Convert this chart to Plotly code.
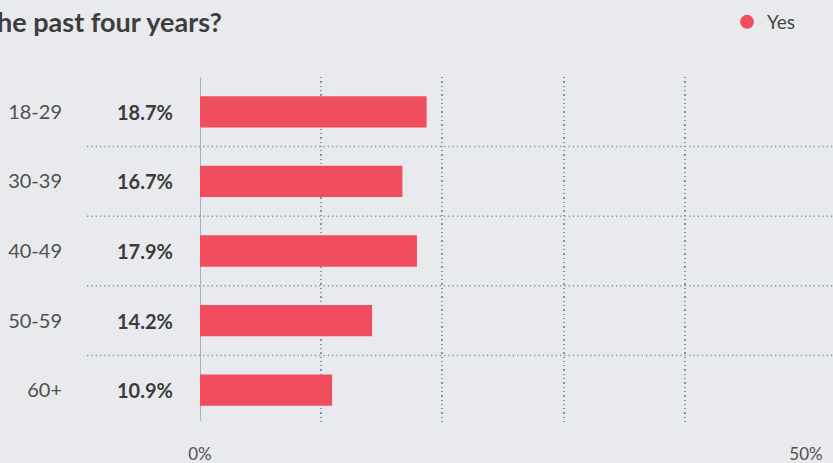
import plotly.graph_objects as go

categories = ["18-29", "30-39", "40-49", "50-59", "60+"]
values = [18.7, 16.7, 17.9, 14.2, 10.9]
series_name = "Yes"
title_text = "the past four years?"
x_tickvals = [0, 10, 20, 30, 40, 50]
x_ticktext = ["0%", "", "", "", "", "50%"]

W, H = 833, 463
L, R, T, B = 200, 27, 77, 38
pw = W - L - R
ph = H - T - B

BG = "rgb(233,234,238)"
BAR = "rgb(240,78,94)"
GRID = "rgb(125,150,175)"
DOT = "1.3px,3px"
FONT = "Lato, 'Source Sans Pro', 'Noto Sans', sans-serif"

fig = go.Figure()
fig.add_trace(go.Bar(
    x=values, y=categories, orientation="h", name=series_name,
    marker=dict(color=BAR, line=dict(width=0)), width=0.45, showlegend=False,
))
# legend marker
fig.add_trace(go.Scatter(
    x=[None], y=[None], mode="markers", name=series_name,
    marker=dict(color=BAR, size=14, symbol="circle"),
))

def px2paperx(px):
    return (px - L) / pw

def px2papery(py):
    return 1 - (py - T) / ph

annotations = []
for c, v in zip(categories, values):
    annotations.append(dict(
        x=px2paperx(175), xref="paper", y=c, yref="y",
        text=f"<b>{v:.1f}%</b>", showarrow=False, xanchor="right",
        font=dict(size=20, color="rgb(60,60,60)", family=FONT),
    ))
annotations.append(dict(
    x=px2paperx(224), xref="paper", y=px2papery(22), yref="paper",
    text=f"<b>{title_text}</b>", showarrow=False, xanchor="right", yanchor="middle",
    font=dict(size=27, color="rgb(62,62,62)", family=FONT),
))

shapes = []
n = len(categories)
for i in range(n - 1):
    shapes.append(dict(
        type="line", xref="paper", yref="y",
        x0=px2paperx(87), x1=px2paperx(833), y0=i + 0.5, y1=i + 0.5,
        line=dict(color=GRID, width=1.5, dash=DOT), layer="below",
    ))
shapes.append(dict(
    type="line", xref="x", yref="paper", x0=0, x1=0,
    y0=px2papery(421), y1=px2papery(77),
    line=dict(color="rgb(160,178,196)", width=2), layer="below",
))

fig.update_layout(
    width=W, height=H,
    margin=dict(l=L, r=R, t=T, b=B, autoexpand=False),
    paper_bgcolor=BG, plot_bgcolor=BG,
    font=dict(family=FONT, color="rgb(80,80,80)"),
    annotations=annotations, shapes=shapes,
    showlegend=True,
    legend=dict(x=px2paperx(801), xanchor="right", y=px2papery(3), yanchor="top",
                orientation="h", font=dict(size=19, color="rgb(70,70,70)"),
                bgcolor="rgba(0,0,0,0)", itemwidth=30),
    bargap=0.55,
)
fig.update_xaxes(
    range=[0, 50], tickvals=x_tickvals, ticktext=x_ticktext,
    showgrid=True, gridcolor=GRID, griddash=DOT, gridwidth=1.5,
    zeroline=False, showline=False, ticks="",
    tickfont=dict(size=17, color="rgb(80,80,80)"), ticklabelstandoff=17,
    fixedrange=True,
)
fig.update_yaxes(
    categoryorder="array", categoryarray=categories, autorange="reversed",
    showgrid=False, zeroline=False, showline=False, ticks="",
    tickfont=dict(size=20, color="rgb(80,80,80)"), ticklabelstandoff=137,
    fixedrange=True,
)

fig.write_html("out.html", config={"displayModeBar": False},
               post_script="document.body.style.margin='0';document.body.style.overflow='hidden';")
